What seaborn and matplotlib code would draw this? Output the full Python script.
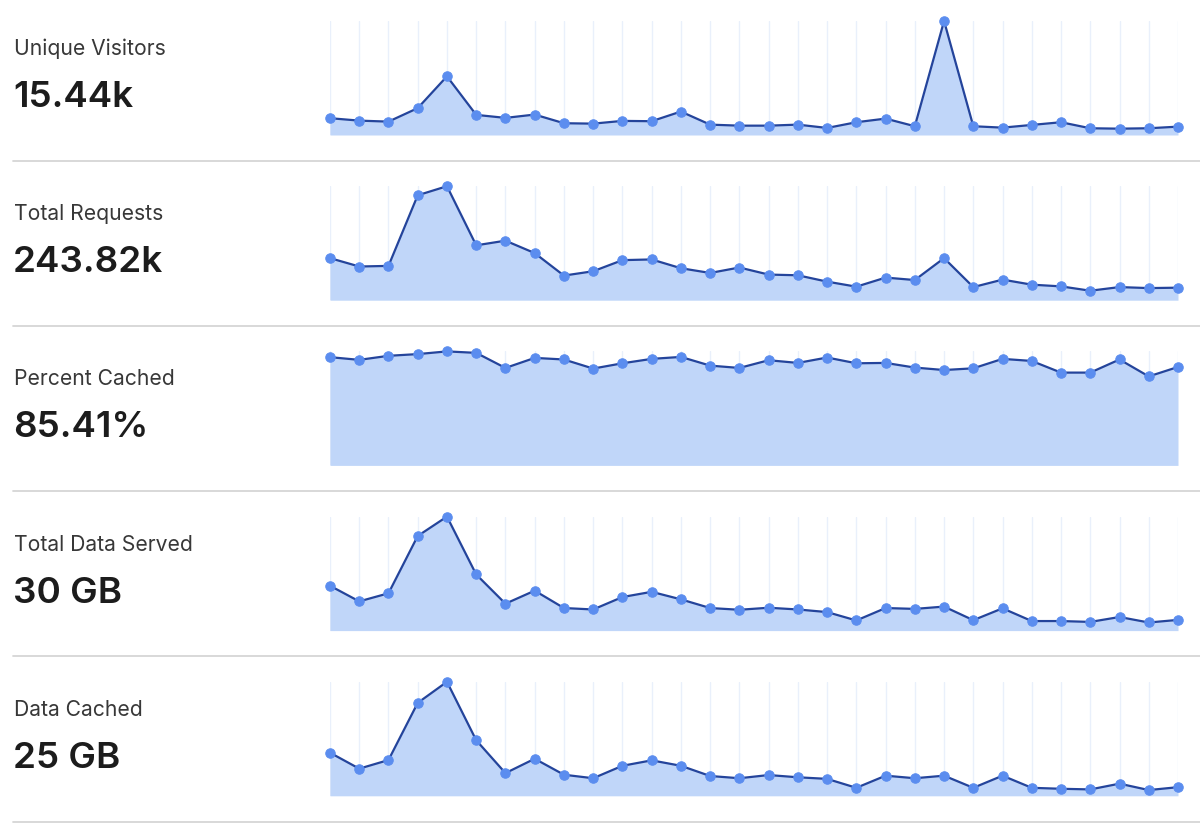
import seaborn as sns
import matplotlib.pyplot as plt

# daily values over 30 days
days = list(range(1, 31))

labels = ["Unique Visitors", "Total Requests", "Percent Cached", "Total Data Served", "Data Cached"]
totals = ["15.44k", "243.82k", "85.41%", "30 GB", "25 GB"]

unique_visitors = [491, 420, 391, 785, 1714, 588, 500, 597, 344, 332,
                   412, 403, 685, 303, 273, 273, 303, 206, 373, 479,
                   256, 3331, 256, 215, 294, 373, 197, 185, 197, 244]
total_requests = [10313, 8260, 8408, 25719, 27945, 13453, 14591, 11549, 6034, 7098,
                  9818, 9991, 7839, 6677, 8013, 6281, 6108, 4550, 3314, 5540,
                  4946, 10313, 3215, 5045, 3808, 3388, 2325, 3215, 2968, 3067]
percent_cached = [88.3, 86.1, 89.4, 90.8, 93.0, 91.8, 79.5, 87.7, 86.4, 79.0,
                  83.3, 86.9, 88.5, 81.4, 79.5, 85.8, 83.6, 88.0, 83.3, 83.6,
                  79.8, 77.8, 79.2, 86.9, 85.2, 75.7, 75.7, 86.4, 72.6, 80.3]
data_served_gb = [1.55, 1.01, 1.29, 3.27, 3.94, 1.94, 0.93, 1.38, 0.78, 0.73,
                  1.16, 1.34, 1.08, 0.78, 0.72, 0.79, 0.73, 0.64, 0.35, 0.78,
                  0.75, 0.83, 0.36, 0.77, 0.33, 0.33, 0.30, 0.47, 0.28, 0.37]
data_cached_gb = [1.35, 0.85, 1.12, 2.91, 3.57, 1.74, 0.71, 1.16, 0.66, 0.55,
                  0.94, 1.11, 0.94, 0.62, 0.55, 0.65, 0.58, 0.53, 0.25, 0.63,
                  0.55, 0.63, 0.25, 0.63, 0.25, 0.22, 0.20, 0.38, 0.18, 0.27]

series = [unique_visitors, total_requests, percent_cached, data_served_gb, data_cached_gb]

sns.set_theme(style="white")
plt.rcParams['font.family'] = ['Inter', 'Roboto', 'DejaVu Sans']

W, H = 1200, 837
fig = plt.figure(figsize=(W / 100, H / 100), dpi=100)

LINE = "#24449b"
DOT = "#5b8def"
FILL = "#c0d6f9"
GRID = "#e9f0fb"
ROW = 165.2

for i, (label, total, vals) in enumerate(zip(labels, totals, series)):
    top = 22 + ROW * i
    bottom = 136 + ROW * i
    ax = fig.add_axes([330 / W, 1 - bottom / H, 848 / W, (bottom - top) / H])

    ax.fill_between(days, 0, vals, color=FILL, lw=0, zorder=1)
    sns.lineplot(x=days, y=vals, ax=ax, color=LINE, linewidth=1.6, marker='o',
                 markersize=6.8, markerfacecolor=DOT, markeredgecolor=DOT,
                 clip_on=False, zorder=3)

    ax.set_xlim(days[0], days[-1])
    ax.set_ylim(0, max(vals))
    ax.set_xticks(days)
    ax.set_yticks([])
    ax.grid(axis='x', color=GRID, lw=1.0, zorder=0)
    ax.set_axisbelow(True)
    ax.tick_params(length=0, labelbottom=False, labelleft=False)
    ax.set_xlabel("")
    ax.set_ylabel("")
    for s in ax.spines.values():
        s.set_visible(False)

    fig.text(14 / W, 1 - (55 + ROW * i) / H, label, fontsize=15.2, color="#383838", va='baseline')
    fig.text(13 / W, 1 - (107 + ROW * i) / H, total, fontsize=26.5, fontweight='semibold',
             color="#1c1c1c", va='baseline')

    # separator under each row
    sep_y = 1 - (161.7 + ROW * i) / H
    fig.add_artist(plt.Line2D([13 / W, 1], [sep_y, sep_y], color="#d6d6d6", lw=1.3))

fig.savefig("out.png", dpi=100, facecolor="white")
